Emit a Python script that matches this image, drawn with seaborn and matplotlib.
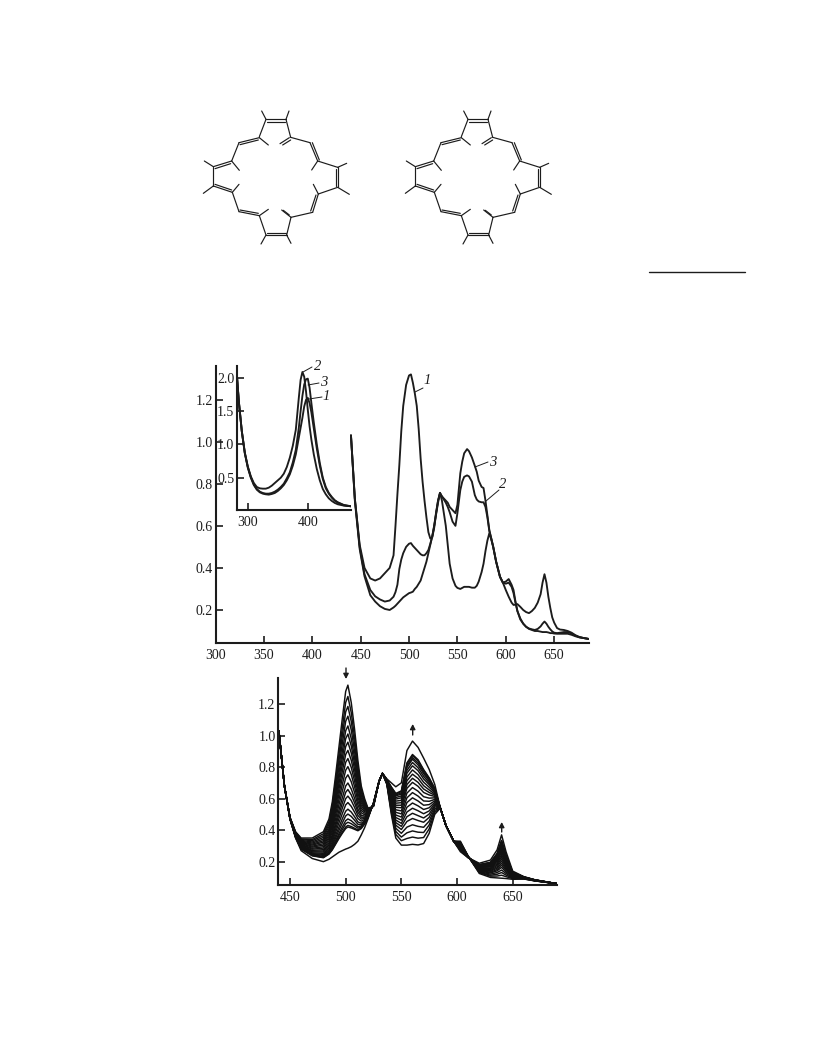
import matplotlib
matplotlib.use("Agg")
import matplotlib.pyplot as plt
import pandas as pd
import seaborn as sns

sns.set_theme(style="white")
plt.rcParams['font.family'] = ['Liberation Serif', 'DejaVu Serif']
plt.rcParams['lines.solid_joinstyle'] = 'round'

INK = "#1c1c1c"

# --- main panel spectra ---
main_nm = [440,444,449,454,460,465,470,475,480,484,486,488,490,492,494,497,500,502,504,506,508,510,512,514,516,518,520,
           522,524,526,528,530,532,534,536,538,540,542,545,548,550,553,555,557,560,562,565,568,570,572,575,577,579,581,
           583,585,587,590,594,597,600,603,606,608,610,612,615,618,621,624,627,630,633,636,638,640,642,644,646,648,650,
           653,656,660,664,668,672,676,680,686]
curve_1 = [1.03,.73,.51,.40,.35,.34,.35,.375,.40,.46,.60,.75,.89,1.05,1.17,1.27,1.315,1.32,1.28,1.23,1.17,1.06,.92,.81,.72,.64,.57,
           .54,.545,.59,.66,.72,.757,.72,.66,.60,.51,.42,.35,.315,.305,.30,.305,.31,.31,.31,.306,.306,.315,.335,.38,.42,.48,.53,
           .565,.535,.50,.43,.358,.33,.325,.33,.31,.28,.235,.195,.16,.135,.12,.11,.105,.10,.10,.097,.095,.095,.095,.093,.09,.09,.088,
           .087,.087,.087,.087,.082,.075,.07,.067,.062]
curve_2 = [1.03,.73,.50,.37,.295,.265,.25,.24,.245,.263,.285,.32,.395,.44,.47,.50,.515,.518,.505,.495,.485,.475,.465,.46,.46,.47,.485,
           .515,.55,.60,.665,.72,.755,.74,.725,.71,.69,.665,.62,.60,.66,.77,.81,.833,.84,.835,.81,.746,.725,.716,.712,.712,.69,.64,
           .575,.54,.50,.43,.358,.33,.335,.347,.32,.295,.24,.195,.155,.135,.12,.112,.108,.105,.11,.122,.135,.145,.135,.12,.108,.098,.092,
           .09,.092,.095,.095,.088,.078,.07,.067,.062]
curve_3 = [1.03,.72,.49,.36,.27,.24,.218,.205,.20,.212,.22,.23,.24,.25,.26,.27,.28,.283,.287,.30,.31,.325,.34,.37,.40,.43,.47,
           .51,.55,.60,.655,.71,.757,.74,.73,.72,.71,.69,.675,.66,.70,.85,.905,.945,.965,.955,.925,.885,.857,.815,.785,.78,.72,.65,
           .58,.54,.50,.43,.358,.33,.295,.263,.235,.224,.225,.228,.215,.20,.19,.185,.195,.21,.235,.275,.33,.37,.33,.263,.21,.165,.14,
           .114,.107,.105,.10,.092,.08,.072,.067,.062]

# --- inset spectra ---
inset_nm = [282,285,290,295,300,305,310,315,320,325,330,335,340,345,350,355,360,365,370,375,380,385,388,391,394,397,
            400,403,406,410,415,420,425,430,435,440,445,450,460,472]
inset_1 = [2.02,1.65,1.20,.87,.65,.50,.39,.32,.28,.26,.25,.245,.255,.27,.30,.34,.39,.46,.55,.68,.85,1.10,1.25,1.40,1.57,1.67,
           1.70,1.62,1.48,1.24,.94,.68,.48,.34,.26,.20,.155,.125,.085,.07]
inset_2 = [2.02,1.65,1.20,.88,.67,.52,.42,.36,.34,.335,.335,.35,.38,.42,.46,.50,.56,.66,.80,.98,1.22,1.70,1.97,2.09,2.02,1.80,
           1.52,1.27,1.07,.85,.63,.46,.33,.25,.19,.15,.12,.10,.08,.07]
inset_3 = [2.02,1.65,1.20,.87,.66,.51,.40,.33,.29,.27,.26,.26,.27,.29,.32,.36,.41,.49,.58,.73,.92,1.25,1.50,1.73,1.90,1.98,
           1.99,1.85,1.62,1.33,1.0,.72,.50,.36,.27,.21,.16,.13,.09,.07]

# --- lower panel: spectral series ---
family_nm = [440,445,450,455,460,470,480,485,488,491,494,497,500,502,505,508,511,514,517,520,525,530,533,537,541,545,550,
             555,560,565,570,575,580,585,590,597,603,610,620,630,636,640,644,650,660,670,690]
family = [
 [1.03,.68,.48,.39,.35,.35,.39,.47,.58,.75,.93,1.11,1.28,1.32,1.21,1.04,.84,.68,.60,.54,.55,.71,.76,.69,.50,.35,.305,.305,.31,.306,.315,.38,.50,.54,.43,.33,.33,.235,.125,.10,.097,.095,.093,.088,.09,.078,.06],
 [1.03,.68,.48,.387,.344,.34,.377,.452,.556,.715,.883,1.051,1.21,1.248,1.146,.989,.804,.658,.587,.535,.552,.71,.76,.692,.514,.373,.333,.347,.356,.349,.353,.408,.513,.54,.43,.33,.325,.234,.13,.108,.109,.114,.105,.092,.091,.078,.06],
 [1.03,.68,.48,.385,.34,.333,.365,.437,.535,.684,.843,1.0,1.15,1.185,1.09,.945,.774,.64,.576,.531,.553,.71,.76,.695,.526,.392,.356,.383,.395,.387,.385,.433,.525,.54,.43,.33,.321,.234,.133,.114,.12,.131,.115,.095,.092,.079,.06],
 [1.03,.68,.48,.382,.335,.325,.354,.422,.513,.654,.803,.95,1.09,1.123,1.036,.90,.743,.621,.565,.527,.555,.71,.76,.697,.538,.412,.38,.419,.434,.424,.418,.457,.536,.54,.43,.33,.317,.233,.137,.121,.131,.147,.125,.098,.093,.079,.06],
 [1.03,.68,.478,.38,.33,.318,.343,.406,.493,.624,.763,.90,1.03,1.061,.981,.858,.713,.603,.554,.523,.556,.71,.76,.699,.55,.431,.404,.455,.474,.461,.45,.481,.548,.54,.43,.33,.313,.233,.141,.128,.142,.164,.135,.101,.094,.08,.06],
 [1.03,.68,.477,.378,.326,.311,.333,.394,.475,.599,.729,.858,.98,1.01,.935,.821,.687,.587,.545,.519,.558,.71,.76,.70,.56,.448,.424,.485,.507,.492,.477,.502,.557,.54,.43,.33,.31,.232,.145,.133,.15,.178,.144,.104,.095,.08,.06],
 [1.03,.68,.477,.376,.322,.305,.324,.381,.458,.573,.696,.816,.93,.958,.89,.785,.662,.572,.535,.516,.559,.71,.76,.702,.57,.464,.443,.515,.539,.523,.504,.522,.567,.54,.43,.33,.307,.232,.148,.139,.159,.191,.153,.106,.095,.08,.06],
 [1.03,.68,.476,.374,.318,.298,.314,.368,.44,.548,.662,.774,.88,.906,.844,.748,.636,.556,.526,.512,.56,.71,.76,.704,.58,.48,.463,.545,.572,.554,.531,.542,.576,.54,.43,.33,.303,.231,.151,.144,.168,.205,.161,.109,.096,.081,.06],
 [1.03,.68,.476,.372,.314,.292,.305,.355,.423,.523,.629,.732,.83,.854,.798,.711,.61,.54,.517,.509,.561,.71,.76,.706,.59,.496,.483,.575,.605,.585,.558,.562,.586,.54,.43,.33,.30,.23,.154,.15,.177,.219,.17,.111,.097,.081,.06],
 [1.03,.68,.475,.37,.31,.285,.295,.343,.405,.498,.595,.69,.78,.803,.753,.675,.585,.525,.508,.505,.563,.71,.76,.708,.60,.513,.503,.605,.638,.616,.585,.583,.595,.54,.43,.33,.297,.23,.158,.155,.186,.233,.178,.114,.098,.082,.06],
 [1.03,.68,.475,.368,.306,.279,.286,.33,.388,.472,.562,.648,.73,.751,.707,.638,.56,.51,.498,.502,.564,.71,.76,.709,.61,.529,.522,.635,.67,.647,.612,.603,.605,.54,.43,.33,.293,.23,.161,.16,.195,.246,.187,.117,.098,.082,.06],
 [1.03,.68,.474,.366,.302,.272,.276,.317,.37,.447,.528,.606,.68,.699,.661,.602,.534,.494,.489,.498,.565,.71,.76,.711,.62,.545,.542,.665,.703,.678,.639,.623,.614,.54,.43,.33,.29,.229,.164,.166,.204,.26,.195,.119,.099,.082,.06],
 [1.03,.68,.474,.364,.299,.267,.268,.307,.356,.427,.501,.572,.64,.658,.624,.573,.514,.482,.482,.495,.566,.71,.76,.712,.628,.558,.558,.689,.729,.703,.661,.639,.622,.54,.43,.33,.287,.229,.167,.17,.211,.271,.202,.121,.10,.082,.06],
 [1.03,.68,.473,.363,.296,.262,.261,.296,.342,.407,.474,.539,.60,.616,.588,.544,.493,.47,.474,.492,.567,.71,.76,.714,.636,.571,.574,.713,.755,.728,.682,.655,.629,.54,.43,.33,.284,.228,.169,.175,.218,.282,.209,.123,.10,.083,.06],
 [1.03,.68,.473,.361,.292,.256,.253,.286,.327,.387,.447,.505,.56,.575,.551,.514,.473,.457,.467,.49,.568,.71,.76,.715,.644,.584,.589,.737,.782,.752,.704,.672,.637,.54,.43,.33,.282,.228,.172,.179,.225,.293,.215,.125,.10,.083,.06],
 [1.03,.68,.472,.36,.289,.251,.246,.276,.314,.367,.42,.472,.52,.533,.515,.485,.452,.444,.459,.487,.569,.71,.76,.717,.652,.597,.605,.761,.808,.777,.725,.688,.644,.54,.43,.33,.279,.227,.174,.184,.232,.304,.222,.128,.101,.083,.06],
 [1.03,.68,.472,.358,.287,.247,.24,.269,.303,.351,.399,.446,.49,.502,.487,.463,.437,.435,.454,.485,.57,.71,.76,.718,.658,.607,.617,.779,.829,.796,.742,.70,.65,.54,.43,.33,.277,.227,.176,.187,.238,.312,.227,.129,.102,.084,.06],
 [1.03,.68,.472,.357,.284,.243,.234,.261,.293,.336,.379,.421,.46,.471,.46,.441,.422,.426,.448,.483,.57,.71,.76,.719,.664,.617,.629,.797,.85,.814,.758,.712,.656,.54,.43,.33,.275,.227,.178,.19,.243,.32,.232,.131,.102,.084,.06],
 [1.03,.68,.472,.356,.283,.241,.23,.256,.286,.326,.367,.404,.44,.45,.441,.427,.412,.42,.445,.481,.571,.71,.76,.719,.668,.623,.637,.809,.86,.827,.769,.72,.66,.54,.43,.33,.274,.227,.18,.192,.247,.326,.236,.132,.103,.084,.06],
 [1.03,.68,.471,.356,.281,.239,.227,.251,.279,.316,.354,.388,.42,.43,.423,.412,.401,.414,.441,.48,.571,.71,.76,.72,.672,.63,.645,.821,.873,.84,.78,.728,.663,.54,.43,.33,.272,.226,.181,.195,.25,.332,.239,.133,.103,.084,.06],
 [1.03,.68,.471,.355,.28,.237,.225,.248,.275,.311,.347,.38,.41,.42,.414,.405,.396,.41,.439,.479,.572,.71,.76,.72,.674,.633,.649,.827,.88,.847,.784,.732,.665,.54,.43,.33,.272,.226,.181,.196,.252,.335,.241,.133,.103,.084,.06],
 [1.03,.68,.47,.35,.27,.22,.20,.215,.23,.245,.26,.27,.28,.285,.295,.31,.33,.37,.415,.47,.575,.71,.76,.725,.70,.675,.70,.905,.965,.925,.857,.785,.69,.54,.43,.33,.263,.225,.19,.21,.275,.37,.263,.14,.105,.085,.06],
]

main_ticks_x = [300,350,400,450,500,550,600,650]
main_ticks_y = [0.2,0.4,0.6,0.8,1.0,1.2]
inset_ticks_x = [300,400]
inset_ticks_y = [0.5,1.0,1.5,2.0]
low_ticks_x = [450,500,550,600,650]
low_ticks_y = [0.2,0.4,0.6,0.8,1.0,1.2]

W, H = 816, 1056
fig = plt.figure(figsize=(W/100, H/100), dpi=100, facecolor="white")

def axes_px(l, t, r, b):
    return fig.add_axes([l/W, 1-b/H, (r-l)/W, (b-t)/H])

def style(ax, xt, yt, fs):
    sns.despine(ax=ax)
    for s in ("left", "bottom"):
        ax.spines[s].set_linewidth(1.5)
        ax.spines[s].set_color(INK)
    ax.set_xticks(xt)
    ax.set_yticks(yt)
    ax.set_yticklabels([f"{v:.1f}" for v in yt])
    ax.tick_params(axis="both", direction="in", length=5, width=1.2, color=INK,
                   labelsize=fs, labelcolor=INK, left=True, bottom=True)
    ax.tick_params(axis="y", pad=2)
    ax.tick_params(axis="x", pad=4)
    ax.set_xlabel("")
    ax.set_ylabel("")
    ax.patch.set_alpha(0)

def draw(ax, nm, rows, lw, color=INK):
    df = pd.concat([pd.DataFrame({"nm": nm, "A": r, "c": i}) for i, r in enumerate(rows)])
    sns.lineplot(data=df, x="nm", y="A", units="c", estimator=None, color=color,
                 linewidth=lw, ax=ax, legend=False, sort=False)

# --- main panel ---
ax = axes_px(215.5, 366, 589, 643)
draw(ax, main_nm, [curve_1, curve_2, curve_3], 1.35)
ax.set_xlim(300, 686)
ax.set_ylim(0.043, 1.36)
style(ax, main_ticks_x, main_ticks_y, 10)

# --- inset ---
ins = axes_px(237, 366, 351, 510)
draw(ins, inset_nm, [inset_1, inset_2, inset_3], 1.35)
ins.set_xlim(282, 472)
ins.set_ylim(0.014, 2.18)
style(ins, inset_ticks_x, inset_ticks_y, 10)

# --- lower panel ---
low = axes_px(278.3, 677.7, 556.7, 885)
draw(low, family_nm, family, 1.05, "#111111")
low.set_xlim(439.5, 689.5)
low.set_ylim(0.052, 1.367)
style(low, low_ticks_x, low_ticks_y, 10)

# --- page overlay in pixel coordinates ---
pg = fig.add_axes([0, 0, 1, 1])
pg.set_xlim(0, W)
pg.set_ylim(H, 0)
pg.axis("off")
pg.patch.set_alpha(0)

def seg(x0, y0, x1, y1, lw=0.8, c=INK):
    pg.plot([x0, x1], [y0, y1], color=c, lw=lw, solid_capstyle="round")

# curve labels with leader lines
labels = [("2", 318, 367, (303, 372), (312, 367)), ("3", 324, 382, (308, 385), (319, 383)),
          ("1", 326, 396, (309, 399), (322, 397)), ("1", 427, 381, (415, 392), (423, 388)),
          ("3", 493, 462, (475, 467), (488, 462)), ("2", 503, 485, (486, 501), (499, 490))]
for t, x, y, a, b in labels:
    pg.text(x, y, t, ha="center", va="center", fontsize=10.5, style="italic", color=INK)
    seg(a[0], a[1], b[0], b[1], 0.7)

# arrows over the lower panel
for x, y0, y1 in [(346, 668, 679), (412.7, 735, 724), (501.7, 832, 822)]:
    pg.annotate("", xy=(x, y1), xytext=(x, y0),
                arrowprops=dict(arrowstyle="-|>,head_width=0.13,head_length=0.25", color=INK, lw=1.0,
                                shrinkA=0, shrinkB=0))

# footnote rule
seg(649, 272, 745, 272, 1.0)

# structural formulas, zoom-crop coordinates
bonds = [(228,73,288,73),(230,80,286,80),(228,73,208,125),(288,73,302,127),(228,73,215,48),(288,73,297,48),
         (270,146,298,128),(278,150,302,135),(302,127,360,143),(360,143,383,198),(367,143,388,195),
         (383,198,443,217),(443,217,443,277),(438,222,438,272),(443,277,385,297),(385,297,368,352),(378,300,362,348),
         (368,352,303,367),(303,367,290,420),(228,420,290,420),(230,413,288,413),(228,420,208,362),
         (208,362,147,350),(205,355,150,345),(147,350,127,292),(127,292,70,273),(125,285,75,268),(70,273,70,215),
         (70,215,125,198),(75,221,122,206),(125,198,147,143),(147,143,208,128),(150,149,205,135),
         (208,128,235,150),(125,198,148,226),(127,292,147,268),(208,362,235,343),(303,367,275,345),(298,360,280,346),
         (385,297,370,268),(383,198,365,225),(70,215,43,198),(70,273,40,295),(443,217,470,205),(443,277,478,298),
         (228,420,213,447),(290,420,303,445)]
for dx in (0, 606):
    for x0, y0, x1, y1 in bonds:
        seg(190+(x0+dx)/3, 95+y0/3, 190+(x1+dx)/3, 95+y1/3, 0.85)

fig.savefig("out.png", dpi=100)
